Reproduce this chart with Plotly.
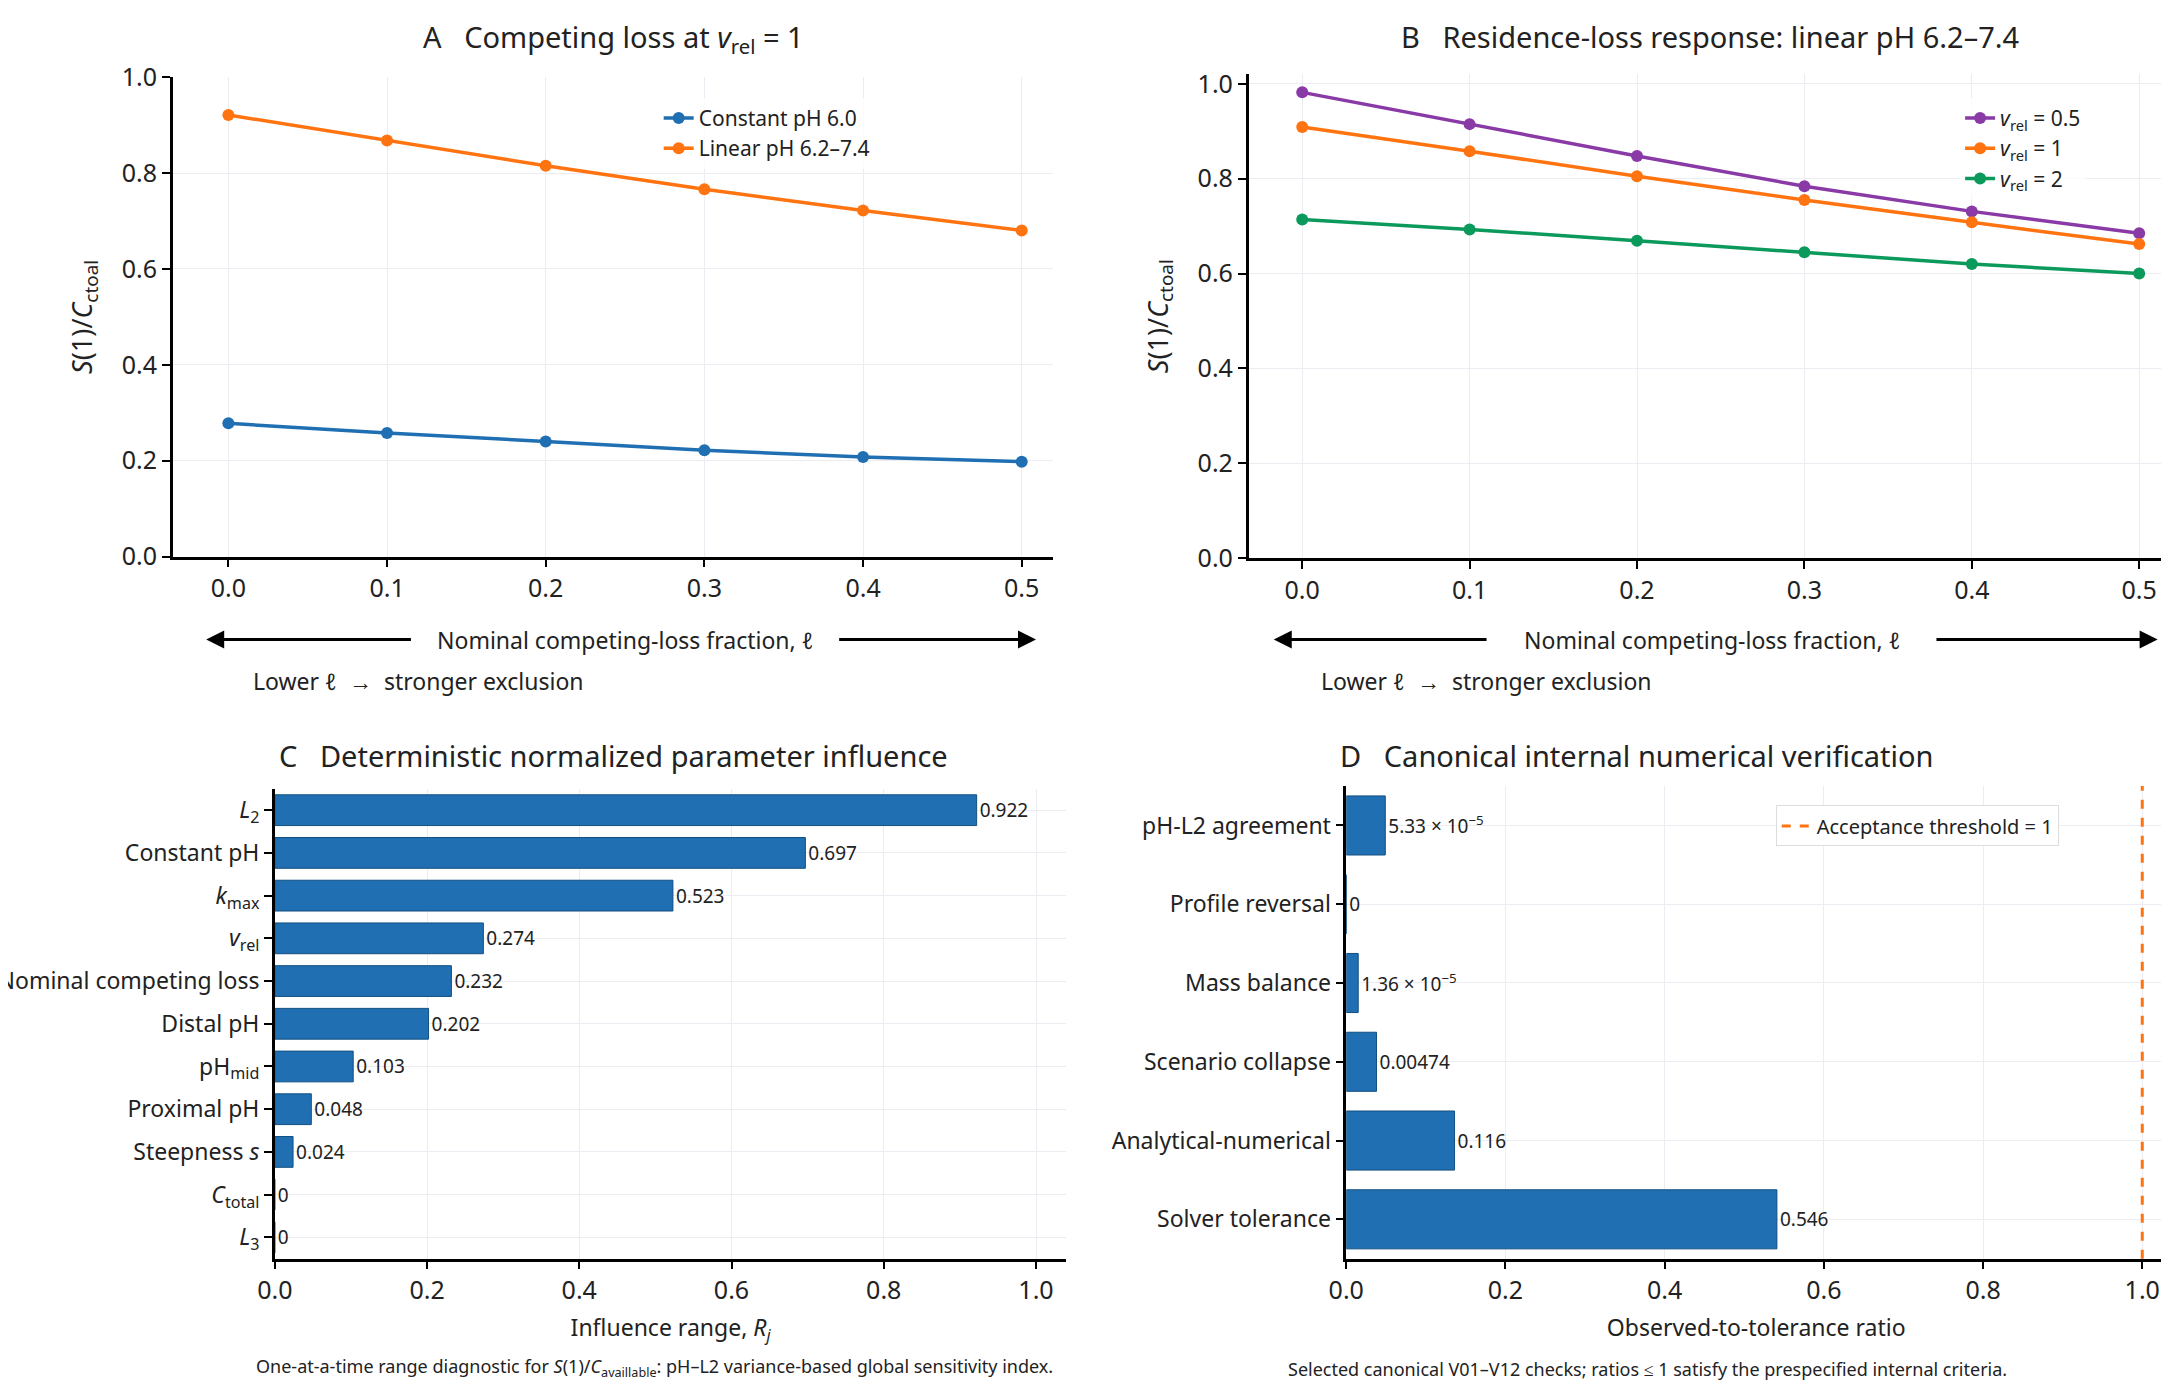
import plotly.graph_objects as go
from plotly.subplots import make_subplots

# panel A / B data
loss_frac = [0.0, 0.1, 0.2, 0.3, 0.4, 0.5]
const_ph6 = [0.278, 0.258, 0.240, 0.222, 0.208, 0.198]
linear_ph = [0.921, 0.868, 0.815, 0.766, 0.722, 0.680]
vrel_05 = [0.982, 0.915, 0.848, 0.784, 0.731, 0.685]
vrel_1 = [0.909, 0.858, 0.805, 0.755, 0.708, 0.662]
vrel_2 = [0.714, 0.693, 0.669, 0.645, 0.620, 0.600]

# panel C
params = ["<i>L</i><sub>2</sub>", "Constant pH", "<i>k</i><sub>max</sub>", "<i>v</i><sub>rel</sub>",
          "Nominal competing loss", "Distal pH", "pH<sub>mid</sub>", "Proximal pH",
          "Steepness <i>s</i>", "<i>C</i><sub>total</sub>", "<i>L</i><sub>3</sub>"]
influence = [0.922, 0.697, 0.523, 0.274, 0.232, 0.202, 0.103, 0.048, 0.024, 0.0, 0.0]
influence_lbl = ["0.922", "0.697", "0.523", "0.274", "0.232", "0.202", "0.103", "0.048", "0.024", "0", "0"]

# panel D
checks = ["pH-L2 agreement", "Profile reversal", "Mass balance", "Scenario collapse",
          "Analytical-numerical", "Solver tolerance"]
ratio_bar = [0.049, 0.0, 0.015, 0.038, 0.136, 0.541]
ratio_lbl = ["5.33 × 10<sup>−5</sup>", "0", "1.36 × 10<sup>−5</sup>", "0.00474", "0.116", "0.546"]

BLUE = "#1f6fb2"
ORANGE = "#ff7410"
PURPLE = "#8a3aa6"
GREEN = "#0c9a5c"
FONT = "Noto Sans"

fig = make_subplots(rows=2, cols=2)

fig.add_trace(go.Scatter(x=loss_frac, y=const_ph6, name="Constant pH 6.0", mode="lines+markers",
                         line=dict(color=BLUE, width=3.5), marker=dict(size=12), legend="legend"), 1, 1)
fig.add_trace(go.Scatter(x=loss_frac, y=linear_ph, name="Linear pH 6.2–7.4", mode="lines+markers",
                         line=dict(color=ORANGE, width=3.5), marker=dict(size=12), legend="legend"), 1, 1)

for ys, nm, c in [(vrel_05, "<i>v</i><sub>rel</sub> = 0.5", PURPLE),
                  (vrel_1, "<i>v</i><sub>rel</sub> = 1", ORANGE),
                  (vrel_2, "<i>v</i><sub>rel</sub> = 2", GREEN)]:
    fig.add_trace(go.Scatter(x=loss_frac, y=ys, name=nm, mode="lines+markers",
                             line=dict(color=c, width=3.5), marker=dict(size=12), legend="legend2"), 1, 2)

fig.add_trace(go.Bar(y=params, x=influence, orientation="h", text=influence_lbl, textposition="outside",
                     marker=dict(color=BLUE, line=dict(color="#124f80", width=1)), width=0.72,
                     textfont=dict(size=19, color="#222"), cliponaxis=False, showlegend=False), 2, 1)

fig.add_trace(go.Bar(y=checks, x=ratio_bar, orientation="h", text=ratio_lbl, textposition="outside",
                     marker=dict(color=BLUE, line=dict(color="#124f80", width=1)), width=0.75,
                     textfont=dict(size=19, color="#222"), cliponaxis=False, showlegend=False), 2, 2)
fig.add_trace(go.Scatter(x=[None], y=[None], mode="lines", name="Acceptance threshold = 1",
                         line=dict(color=ORANGE, width=3, dash="dash"), legend="legend3"), 2, 2)
fig.add_shape(type="line", xref="x4", yref="y4 domain", x0=1.0, x1=1.0, y0=0, y1=1.0,
              line=dict(color=ORANGE, width=3, dash="dash"))

ax = dict(showline=True, linecolor="black", linewidth=2.5, ticks="outside", ticklen=8, tickwidth=2,
          tickcolor="black", showgrid=True, gridcolor="#ececf2", zeroline=False, automargin=False,
          tickfont=dict(size=25, color="#222"))
fig.update_xaxes(**ax)
fig.update_yaxes(**ax)

ytitle = "<i>S</i>(1)/<i>C</i><sub>ctoal</sub>"
fig.update_layout(
    xaxis=dict(domain=[0.076, 0.482], range=[-0.035, 0.52], dtick=0.1, tickformat=".1f"),
    yaxis=dict(domain=[0.603, 0.950], range=[0, 1.0], dtick=0.2, tickformat=".1f",
               title=dict(text=ytitle, font=dict(size=27), standoff=22)),
    xaxis2=dict(domain=[0.572, 0.998], range=[-0.032, 0.52], dtick=0.1, tickformat=".1f"),
    yaxis2=dict(domain=[0.602, 0.952], range=[0, 1.02], dtick=0.2, tickformat=".1f",
                title=dict(text=ytitle, font=dict(size=27), standoff=22)),
    xaxis3=dict(domain=[0.123, 0.488], range=[0, 1.04], dtick=0.2, tickformat=".1f",
                title=dict(text="Influence range, <i>R<sub>j</sub></i>", font=dict(size=23))),
    yaxis3=dict(domain=[0.095, 0.435], autorange="reversed", tickfont=dict(size=23, color="#222")),
    xaxis4=dict(domain=[0.617, 0.995], range=[0, 1.03], dtick=0.2, tickformat=".1f",
                title=dict(text="Observed-to-tolerance ratio", font=dict(size=23))),
    yaxis4=dict(domain=[0.095, 0.437], autorange="reversed", tickfont=dict(size=23, color="#222")),
    legend=dict(x=0.30, y=0.935, xanchor="left", yanchor="top", font=dict(size=21), bgcolor="rgba(255,255,255,0.8)"),
    legend2=dict(x=0.9, y=0.935, xanchor="left", yanchor="top", font=dict(size=21), bgcolor="rgba(255,255,255,0.8)"),
    legend3=dict(x=0.815, y=0.423, xanchor="left", yanchor="top", font=dict(size=20),
                 bordercolor="#dddddd", borderwidth=1, bgcolor="white"),
    width=2169, height=1382, margin=dict(l=0, r=0, t=0, b=0, autoexpand=False),
    plot_bgcolor="white", paper_bgcolor="white", font=dict(family=FONT, color="#222"),
    bargap=0.25,
)

ann = []
titles = [(0.279, 0.995, "A   Competing loss at <i>v</i><sub>rel</sub> = 1"),
          (0.785, 0.995, "B   Residence-loss response: linear pH 6.2–7.4"),
          (0.279, 0.475, "C   Deterministic normalized parameter influence"),
          (0.751, 0.475, "D   Canonical internal numerical verification")]
for x, y, t in titles:
    ann.append(dict(x=x, y=y, xref="paper", yref="paper", text=t, showarrow=False,
                    xanchor="center", yanchor="top", font=dict(size=29)))

# competing-loss arrows under panels A and B
for xr, left, right, mid, low in [("x", (-0.014, 0.116), (0.384, 0.509), 0.25, 0.12),
                                  ("x2", (-0.017, 0.111), (0.378, 0.511), 0.245, 0.11)]:
    for head, tail in [left, (right[1], right[0])]:
        ann.append(dict(x=head, y=0.543, xref=xr, yref="paper", ax=tail, ay=0, axref=xr, ayref="pixel",
                        showarrow=True, arrowhead=2, arrowsize=1.2, arrowwidth=3, arrowcolor="black", text=""))
    ann.append(dict(x=mid, y=0.543, xref=xr, yref="paper", showarrow=False, xanchor="center",
                    text="Nominal competing-loss fraction, <i>ℓ</i>", font=dict(size=23)))
    ann.append(dict(x=low, y=0.513, xref=xr, yref="paper", showarrow=False, xanchor="center",
                    text="Lower <i>ℓ</i>  →  stronger exclusion", font=dict(size=23)))

ann.append(dict(x=0.298, y=0.005, xref="paper", yref="paper", xanchor="center", yanchor="bottom",
                showarrow=False, font=dict(size=18),
                text="One-at-a-time range diagnostic for <i>S</i>(1)/<i>C</i><sub>availlable</sub>: pH–L2 variance-based global sensitivity index."))
ann.append(dict(x=0.756, y=0.005, xref="paper", yref="paper", xanchor="center", yanchor="bottom",
                showarrow=False, font=dict(size=18),
                text="Selected canonical V01–V12 checks; ratios ≤ 1 satisfy the prespecified internal criteria."))
fig.update_layout(annotations=ann)

fig.write_html("out.html")
